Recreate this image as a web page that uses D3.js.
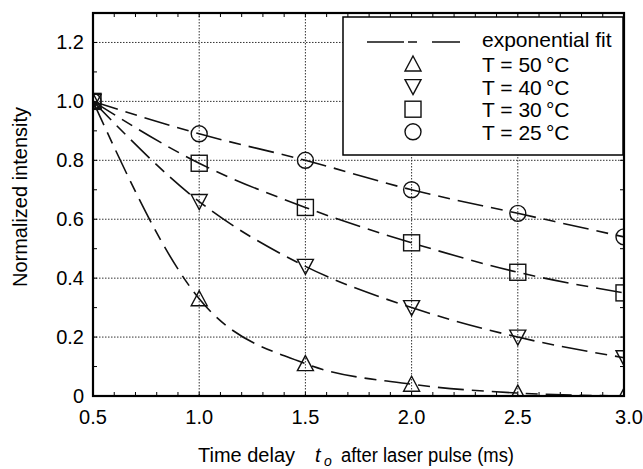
<!DOCTYPE html>
<html>
<head>
<meta charset="utf-8">
<script src="https://cdn.jsdelivr.net/npm/d3@7"></script>
<style>
  body { margin: 0; background: #fff; }
  svg { font-family: "Liberation Sans", Arial, sans-serif; }
</style>
</head>
<body>
<svg id="chart" width="643" height="469"></svg>
<script>
// time delays (ms)
var delays = [0.5, 1.0, 1.5, 2.0, 2.5, 3.0];
// normalized intensity per temperature
var t50 = [1.0, 0.33, 0.11, 0.04, 0.01, 0.0];
var t40 = [1.0, 0.66, 0.44, 0.30, 0.20, 0.13];
var t30 = [1.0, 0.79, 0.64, 0.52, 0.42, 0.35];
var t25 = [1.0, 0.89, 0.80, 0.70, 0.62, 0.54];
var seriesLabels = ['T = 50\u2009\u00b0C', 'T = 40\u2009\u00b0C', 'T = 30\u2009\u00b0C', 'T = 25\u2009\u00b0C'];
var xTicks = [0.5, 1.0, 1.5, 2.0, 2.5, 3.0];
var yTicks = [0, 0.2, 0.4, 0.6, 0.8, 1.0, 1.2];

(function() {
  var series = [
    {name: seriesLabels[0], values: t50, shape: 'up'},
    {name: seriesLabels[1], values: t40, shape: 'down'},
    {name: seriesLabels[2], values: t30, shape: 'square'},
    {name: seriesLabels[3], values: t25, shape: 'circle'}
  ];

  var svg = d3.select('#chart');
  var pLeft = 93, pRight = 624, pTop = 13, pBottom = 396;

  var x = d3.scaleLinear().domain([0.5, 3.0]).range([pLeft, pRight]);
  var y = d3.scaleLinear().domain([0, 1.3]).range([pBottom, pTop]);

  svg.append('defs').append('clipPath').attr('id', 'plotclip')
    .append('rect').attr('x', pLeft).attr('y', pTop)
    .attr('width', pRight - pLeft).attr('height', pBottom - pTop);

  //grid
  var grid = svg.append('g');
  grid.selectAll('line.gx').data(xTicks.slice(1, -1)).enter().append('line')
    .attr('x1', function(d) { return x(d); }).attr('x2', function(d) { return x(d); })
    .attr('y1', pTop).attr('y2', pBottom)
    .attr('stroke', '#333').attr('stroke-width', 1).attr('stroke-dasharray', '1.5,1.5');
  grid.selectAll('line.gy').data(yTicks.slice(1)).enter().append('line')
    .attr('y1', function(d) { return y(d); }).attr('y2', function(d) { return y(d); })
    .attr('x1', pLeft).attr('x2', pRight)
    .attr('stroke', '#333').attr('stroke-width', 1).attr('stroke-dasharray', '1.5,1.5');

  //minor ticks on all four sides
  var xMinor = d3.range(5, 31).map(function(d) { return d / 10; });
  var yMinor = d3.range(0, 13).map(function(d) { return d / 10; });
  var ticks = svg.append('g').attr('stroke', '#000').attr('stroke-width', 1);
  xMinor.forEach(function(v) {
    ticks.append('line').attr('x1', x(v)).attr('x2', x(v)).attr('y1', pBottom).attr('y2', pBottom - 4);
    ticks.append('line').attr('x1', x(v)).attr('x2', x(v)).attr('y1', pTop).attr('y2', pTop + 4);
  });
  yMinor.forEach(function(v) {
    ticks.append('line').attr('y1', y(v)).attr('y2', y(v)).attr('x1', pLeft).attr('x2', pLeft + 4);
    ticks.append('line').attr('y1', y(v)).attr('y2', y(v)).attr('x1', pRight).attr('x2', pRight - 4);
  });

  //fit curves
  var plot = svg.append('g').attr('clip-path', 'url(#plotclip)');
  var line = d3.line()
    .x(function(d) { return x(d[0]); })
    .y(function(d) { return y(d[1]); })
    .curve(d3.curveMonotoneX);

  series.forEach(function(s) {
    var pts = delays.map(function(t, i) { return [t, s.values[i]]; });
    plot.append('path').attr('d', line(pts))
      .attr('fill', 'none').attr('stroke', '#111').attr('stroke-width', 1.6)
      .attr('stroke-dasharray', '26,8,12,8');
  });

  function drawMarker(g, shape, cx, cy) {
    var sz = 8;
    if (shape === 'circle') {
      g.append('circle').attr('cx', cx).attr('cy', cy).attr('r', sz);
    } else if (shape === 'square') {
      g.append('rect').attr('x', cx - sz).attr('y', cy - sz).attr('width', 2 * sz).attr('height', 2 * sz);
    } else if (shape === 'up') {
      g.append('path').attr('d', 'M' + cx + ',' + (cy - sz) + 'L' + (cx + sz) + ',' + (cy + sz - 1) + 'L' + (cx - sz) + ',' + (cy + sz - 1) + 'Z');
    } else {
      g.append('path').attr('d', 'M' + cx + ',' + (cy + sz) + 'L' + (cx + sz) + ',' + (cy - sz + 1) + 'L' + (cx - sz) + ',' + (cy - sz + 1) + 'Z');
    }
  }

  var marks = plot.append('g').attr('fill', 'none').attr('stroke', '#111').attr('stroke-width', 1.4);
  series.forEach(function(s) {
    delays.forEach(function(t, i) {
      drawMarker(marks, s.shape, x(t), y(s.values[i]));
    });
  });

  //frame
  svg.append('rect').attr('x', pLeft).attr('y', pTop)
    .attr('width', pRight - pLeft).attr('height', pBottom - pTop)
    .attr('fill', 'none').attr('stroke', '#000').attr('stroke-width', 2.2);

  //tick labels
  svg.append('g').selectAll('text').data(xTicks).enter().append('text')
    .attr('x', function(d) { return x(d) + (d === 3.0 ? 5 : 0); }).attr('y', pBottom + 28)
    .attr('text-anchor', 'middle').attr('font-size', 20)
    .text(function(d) { return d.toFixed(1); });
  svg.append('g').selectAll('text').data(yTicks).enter().append('text')
    .attr('x', 84).attr('y', function(d) { return y(d) + 7; })
    .attr('text-anchor', 'end').attr('font-size', 20)
    .text(function(d) { return d === 0 ? '0' : d.toFixed(1); });

  //axis titles
  svg.append('text').attr('transform', 'translate(27,197) rotate(-90)')
    .attr('text-anchor', 'middle').attr('font-size', 20).text('Normalized intensity');
  var xt = svg.append('text').attr('y', 462).attr('font-size', 20);
  xt.append('tspan').attr('x', 198).attr('textLength', 97).attr('lengthAdjust', 'spacingAndGlyphs').text('Time delay');
  xt.append('tspan').attr('x', 315).attr('font-style', 'italic').text('t');
  xt.append('tspan').attr('x', 324).attr('font-size', 14).attr('dy', 4).attr('font-style', 'italic').text('o');
  xt.append('tspan').attr('x', 341).attr('dy', -4).attr('textLength', 173).attr('lengthAdjust', 'spacingAndGlyphs')
    .text('after laser pulse (ms)');

  //legend
  var lg = svg.append('g');
  lg.append('rect').attr('x', 343).attr('y', 17).attr('width', 280).attr('height', 138)
    .attr('fill', '#fff').attr('stroke', '#000').attr('stroke-width', 1.5);
  lg.append('line').attr('x1', 367).attr('x2', 460).attr('y1', 42).attr('y2', 42)
    .attr('stroke', '#111').attr('stroke-width', 1.6).attr('stroke-dasharray', '37,4,9,15,28,100');
  lg.append('text').attr('x', 482).attr('y', 47).attr('font-size', 21).text('exponential fit');
  var lgMarks = lg.append('g').attr('fill', 'none').attr('stroke', '#111').attr('stroke-width', 1.4);
  series.forEach(function(s, i) {
    var cy = 64 + i * 22.6;
    drawMarker(lgMarks, s.shape, 413, cy);
    lg.append('text').attr('x', 482).attr('y', cy + 8).attr('font-size', 21).text(s.name);
  });
})();
</script>
</body>
</html>
